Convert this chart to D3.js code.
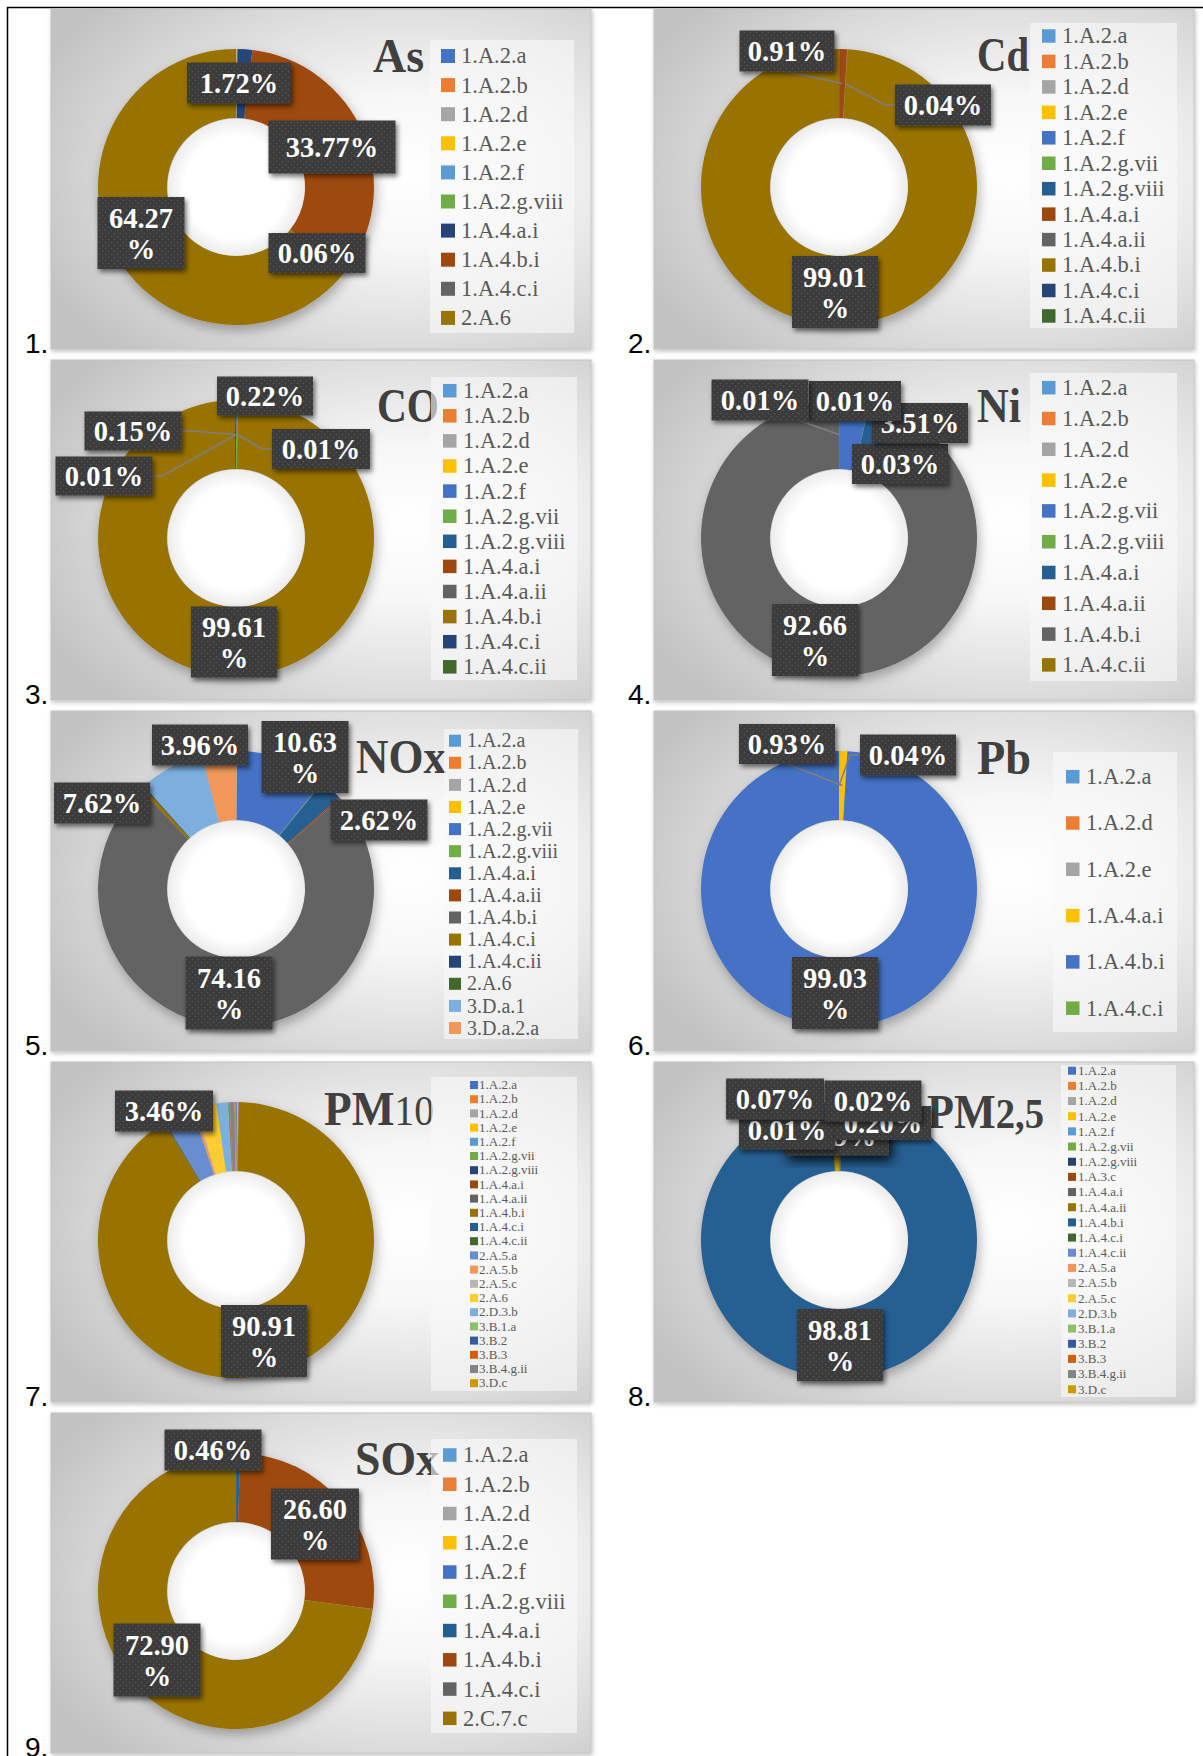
<!DOCTYPE html>
<html lang="en">
<head>
<meta charset="UTF-8" />
<title>Emission shares by source category</title>
<script src="https://d3js.org/d3.v7.min.js"></script>
<style>
  body { margin: 0; background: #fff; }
  text { font-family: 'Liberation Serif', 'Times New Roman', serif; }
  .num { font-family: 'Liberation Sans', Arial, sans-serif; font-size: 28px; fill: #000; }
  .title { font-weight: bold; fill: #404040; }
  .leg text { fill: #595959; }
  .lbl text { fill: #fff; font-weight: bold; font-size: 28.5px; text-anchor: middle; }
</style>
</head>
<body>
<svg id="fig" width="1203" height="1756"></svg>
<script>
// Office colour orders used by the two groups of charts
const paletteA = ["#4472C4","#ED7D31","#A5A5A5","#FFC000","#5B9BD5","#70AD47","#264478","#9E480E","#636363","#997300","#255E91","#43682B","#698ED0","#F1975A","#B7B7B7","#FFCD33","#7CAFDD","#8CC168","#335AA1","#D26012","#848484","#CC9A00"];
const paletteB = ["#5B9BD5","#ED7D31","#A5A5A5","#FFC000","#4472C4","#70AD47","#255E91","#9E480E","#636363","#997300","#264478","#43682B","#7CAFDD","#F1975A"];

// ---- data (shares in %) ----
const asCats = ["1.A.2.a","1.A.2.b","1.A.2.d","1.A.2.e","1.A.2.f","1.A.2.g.viii","1.A.4.a.i","1.A.4.b.i","1.A.4.c.i","2.A.6"];
const asVals = [0.03,0.02,0.05,0.03,0.03,0.02,1.72,33.77,0.06,64.27];
const asLabelled = ["1.A.4.a.i","1.A.4.b.i","1.A.4.c.i","2.A.6"];

const cdCats = ["1.A.2.a","1.A.2.b","1.A.2.d","1.A.2.e","1.A.2.f","1.A.2.g.vii","1.A.2.g.viii","1.A.4.a.i","1.A.4.a.ii","1.A.4.b.i","1.A.4.c.i","1.A.4.c.ii"];
const cdVals = [0.01,0,0.01,0,0.01,0,0,0.91,0.04,99.01,0.01,0];
const cdLabelled = ["1.A.4.a.i","1.A.4.a.ii","1.A.4.b.i"];

const coCats = ["1.A.2.a","1.A.2.b","1.A.2.d","1.A.2.e","1.A.2.f","1.A.2.g.vii","1.A.2.g.viii","1.A.4.a.i","1.A.4.a.ii","1.A.4.b.i","1.A.4.c.i","1.A.4.c.ii"];
const coVals = [0,0,0,0,0,0.22,0,0.01,0,99.61,0.15,0.01];
const coLabelled = ["1.A.2.g.vii","1.A.4.c.i","1.A.4.a.i","1.A.4.c.ii","1.A.4.b.i"];

const niCats = ["1.A.2.a","1.A.2.b","1.A.2.d","1.A.2.e","1.A.2.g.vii","1.A.2.g.viii","1.A.4.a.i","1.A.4.a.ii","1.A.4.b.i","1.A.4.c.ii"];
const niVals = [0.01,0,0.01,0,3.51,0.03,3.78,0,92.66,0];
const niLabelled = ["1.A.2.g.viii","1.A.2.g.vii","1.A.2.d","1.A.2.a","1.A.4.b.i"];

const noxCats = ["1.A.2.a","1.A.2.b","1.A.2.d","1.A.2.e","1.A.2.g.vii","1.A.2.g.viii","1.A.4.a.i","1.A.4.a.ii","1.A.4.b.i","1.A.4.c.i","1.A.4.c.ii","2.A.6","3.D.a.1","3.D.a.2.a"];
const noxVals = [0.05,0.02,0.05,0.03,10.63,0.08,2.62,0.18,74.16,0.45,0.10,0.05,7.62,3.96];
const noxLabelled = ["3.D.a.2.a","1.A.2.g.vii","3.D.a.1","1.A.4.a.i","1.A.4.b.i"];

const pbCats = ["1.A.2.a","1.A.2.d","1.A.2.e","1.A.4.a.i","1.A.4.b.i","1.A.4.c.i"];
const pbVals = [0,0,0.04,0.93,99.03,0];
const pbLabelled = ["1.A.4.a.i","1.A.2.e","1.A.4.b.i"];

const pm10Cats = ["1.A.2.a","1.A.2.b","1.A.2.d","1.A.2.e","1.A.2.f","1.A.2.g.vii","1.A.2.g.viii","1.A.4.a.i","1.A.4.a.ii","1.A.4.b.i","1.A.4.c.i","1.A.4.c.ii","2.A.5.a","2.A.5.b","2.A.5.c","2.A.6","2.D.3.b","3.B.1.a","3.B.2","3.B.3","3.B.4.g.ii","3.D.c"];
const pm10Vals = [0.10,0.05,0.05,0.05,0.02,0.02,0.01,0.02,0.03,90.91,0.10,0.05,3.46,0.35,0.10,2.40,1.33,0.05,0.05,0.10,0.60,0.15];
const pm10Labelled = ["2.A.5.a","1.A.4.b.i"];

const pm25Cats = ["1.A.2.a","1.A.2.b","1.A.2.d","1.A.2.e","1.A.2.f","1.A.2.g.vii","1.A.2.g.viii","1.A.3.c","1.A.4.a.i","1.A.4.a.ii","1.A.4.b.i","1.A.4.c.i","1.A.4.c.ii","2.A.5.a","2.A.5.b","2.A.5.c","2.D.3.b","3.B.1.a","3.B.2","3.B.3","3.B.4.g.ii","3.D.c"];
const pm25Vals = [0.01,0,0,0.02,0,0,0,0.07,0,0.20,98.81,0,0,0,0,0,0,0,0,0,0,0.89];
const pm25Labelled = ["3.D.c","1.A.2.a","1.A.4.a.ii","1.A.3.c","1.A.2.e","1.A.4.b.i"];

const soxCats = ["1.A.2.a","1.A.2.b","1.A.2.d","1.A.2.e","1.A.2.f","1.A.2.g.viii","1.A.4.a.i","1.A.4.b.i","1.A.4.c.i","2.C.7.c"];
const soxVals = [0.01,0,0.01,0,0,0,0.46,26.60,0.02,72.90];
const soxLabelled = ["1.A.4.a.i","1.A.4.b.i","2.C.7.c"];

// ---- layout ----
const colX = [51, 654], rowY = [9, 360, 711, 1062, 1413];
const boxW = 540, boxH = 340;
const cx0 = 185, cy0 = 178, rOut = 138, rIn = 69;

const charts = [
  { n: 1, row: 0, col: 0, title: ["As"], tx: 322, ty: 63, tw: 51, pal: paletteA, cats: asCats, vals: asVals, lab: asLabelled,
    leg: { x: 379, y: 31, w: 144, h: 293, first: 47, step: 29.1, sx: 390, ss: 14, txt: 410, fs: 22.5 },
    pos: { "1.A.4.a.i": [3, -104, 104, 41], "1.A.4.b.i": [96, -40, 127, 53], "1.A.4.c.i": [81, 66, 97, 40], "2.A.6": [-95, 46, 87, 72, 2] } },
  { n: 2, row: 0, col: 1, title: ["Cd"], tx: 323, ty: 62, tw: 52, pal: paletteB, cats: cdCats, vals: cdVals, lab: cdLabelled,
    leg: { x: 376, y: 14, w: 147, h: 305, first: 27, step: 25.45, sx: 388, ss: 13.5, txt: 408, fs: 22.5 },
    pos: { "1.A.4.a.i": [-52, -136, 95, 41, 1, "bottom", 0.5], "1.A.4.a.ii": [104, -82, 96, 41, 1, "left"], "1.A.4.b.i": [-4, 105, 86, 72, 2] } },
  { n: 3, row: 1, col: 0, title: ["CO"], tx: 326, ty: 62, tw: 62, pal: paletteB, cats: coCats, vals: coVals, lab: coLabelled,
    leg: { x: 380, y: 17, w: 146, h: 303, first: 30.7, step: 25.1, sx: 392, ss: 13.5, txt: 412, fs: 22.5 },
    pos: { "1.A.2.g.vii": [29, -142, 96, 39, 1, "bottom", 0.2], "1.A.4.c.i": [-103, -107, 97, 39, 1, "right"],
           "1.A.4.a.i": [85, -89, 98, 40, 1, "left"], "1.A.4.c.ii": [-132, -62, 97, 39, 1, "right"], "1.A.4.b.i": [-2, 104, 86, 71, 2] } },
  { n: 4, row: 1, col: 1, title: ["Ni"], tx: 323, ty: 62, tw: 44, pal: paletteB, cats: niCats, vals: niVals, lab: niLabelled,
    leg: { x: 376, y: 13, w: 147, h: 308, first: 27.7, step: 30.8, sx: 388, ss: 13.5, txt: 408, fs: 22.5 },
    pos: { "1.A.2.g.viii": [61, -74, 96, 40], "1.A.2.g.vii": [81, -115, 96, 40], "1.A.2.d": [16, -137, 92, 40],
           "1.A.2.a": [-79, -138, 97, 41, 1, "bottom", 0.9], "1.A.4.b.i": [-24, 102, 86, 72, 2] } },
  { n: 5, row: 2, col: 0, title: ["NOx"], tx: 305, ty: 62, tw: 90, pal: paletteB, cats: noxCats, vals: noxVals, lab: noxLabelled,
    leg: { x: 393, y: 18, w: 134, h: 310, first: 29.7, step: 22.1, sx: 398, ss: 12, txt: 416, fs: 20 },
    pos: { "3.D.a.2.a": [-36, -144, 96, 41], "1.A.2.g.vii": [69, -132, 87, 72, 2], "3.D.a.1": [-134, -86, 96, 41],
           "1.A.4.a.i": [143, -69, 97, 41], "1.A.4.b.i": [-7, 104, 87, 73, 2] } },
  { n: 6, row: 2, col: 1, title: ["Pb"], tx: 323, ty: 63, tw: 54, pal: paletteB, cats: pbCats, vals: pbVals, lab: pbLabelled,
    leg: { x: 399, y: 41, w: 124, h: 280, first: 65.7, step: 46.3, sx: 412, ss: 13.5, txt: 432, fs: 22.5 },
    pos: { "1.A.4.a.i": [-52, -145, 96, 40, 1, "bottom", 0.5], "1.A.2.e": [69, -134, 96, 41, 1, "left"], "1.A.4.b.i": [-4, 104, 86, 72, 2] } },
  { n: 7, row: 3, col: 0, title: ["PM", "10"], tx: 273, ty: 63, tw: 110, pal: paletteA, cats: pm10Cats, vals: pm10Vals, lab: pm10Labelled,
    leg: { x: 380, y: 15, w: 146, h: 314, first: 23, step: 14.2, sx: 419, ss: 8, txt: 428, fs: 13 },
    pos: { "2.A.5.a": [-72, -129, 98, 41], "1.A.4.b.i": [28, 101, 86, 72, 2] } },
  { n: 8, row: 3, col: 1, title: ["PM", "2,5"], tx: 273, ty: 66, tw: 117, pal: paletteA, cats: pm25Cats, vals: pm25Vals, lab: pm25Labelled,
    leg: { x: 407, y: 3, w: 115, h: 332, first: 8.7, step: 15.17, sx: 414, ss: 8, txt: 424, fs: 13 },
    pos: { "3.D.c": [-2, -104, 104, 39, 1, null, 0, true], "1.A.2.a": [-52, -110, 96, 39], "1.A.4.a.ii": [44, -117, 96, 34],
           "1.A.3.c": [-64, -141, 98, 41], "1.A.2.e": [34, -139, 97, 41], "1.A.4.b.i": [1, 105, 86, 72, 2] } },
  { n: 9, row: 4, col: 0, title: ["SOx"], tx: 304, ty: 62, tw: 84, pal: paletteB, cats: soxCats, vals: soxVals, lab: soxLabelled,
    leg: { x: 380, y: 26, w: 146, h: 294, first: 42, step: 29.26, sx: 392, ss: 13.5, txt: 412, fs: 22.5 },
    pos: { "1.A.4.a.i": [-23, -141, 97, 41], "1.A.4.b.i": [79, -67, 88, 71, 2], "2.C.7.c": [-79, 69, 87, 73, 2] } }
];

const svg = d3.select("#fig");
const defs = svg.append("defs");

const bg = defs.append("radialGradient").attr("id", "bgGrad")
  .attr("cx", 0.66).attr("cy", 0.48).attr("r", 0.75);
[[0, "#ffffff"], [0.3, "#f7f7f7"], [0.7, "#dadada"], [1, "#c2c2c2"]].forEach(s =>
  bg.append("stop").attr("offset", s[0]).attr("stop-color", s[1]));

const hole = defs.append("radialGradient").attr("id", "holeGrad");
[[0, "#ffffff"], [0.75, "#ffffff"], [1, "#ececec"]].forEach(s =>
  hole.append("stop").attr("offset", s[0]).attr("stop-color", s[1]));

const pat = defs.append("pattern").attr("id", "dots")
  .attr("width", 6).attr("height", 6).attr("patternUnits", "userSpaceOnUse");
pat.append("rect").attr("width", 6).attr("height", 6).attr("fill", "#3b3b3b");
pat.append("circle").attr("cx", 1.5).attr("cy", 1.5).attr("r", 0.8).attr("fill", "#565656");
pat.append("circle").attr("cx", 4.5).attr("cy", 4.5).attr("r", 0.8).attr("fill", "#565656");

function shadow(id, dx, dy, sd, op) {
  defs.append("filter").attr("id", id).attr("x", "-30%").attr("y", "-30%").attr("width", "160%").attr("height", "160%")
    .append("feDropShadow").attr("dx", dx).attr("dy", dy).attr("stdDeviation", sd)
    .attr("flood-color", "#000").attr("flood-opacity", op);
}
shadow("lblShadow", 2, 3, 2.5, 0.55);
shadow("bigShadow", 3, 5, 6, 0.9);
shadow("ringShadow", 2, 5, 6, 0.3);
shadow("boxShadow", 1, 2, 2, 0.25);

// table lines
svg.append("line").attr("x1", 7).attr("x2", 1203).attr("y1", 7.5).attr("y2", 7.5).attr("stroke", "#000").attr("stroke-width", 1.5);
svg.append("line").attr("x1", 7.5).attr("x2", 7.5).attr("y1", 7).attr("y2", 1756).attr("stroke", "#000").attr("stroke-width", 1.5);

const pie = d3.pie().sort(null).value(d => d.v);
const arc = d3.arc().innerRadius(rIn).outerRadius(rOut);

charts.forEach(c => {
  const bx = colX[c.col], by = rowY[c.row];
  const g = svg.append("g").attr("transform", `translate(${bx},${by})`);

  g.append("rect").attr("width", boxW).attr("height", boxH)
    .attr("fill", "url(#bgGrad)").attr("stroke", "#c4c4c4").attr("filter", "url(#boxShadow)");

  // donut
  const data = c.cats.map((k, i) => ({ k, v: c.vals[i], col: c.pal[i] }));
  const arcs = pie(data);
  const ring = g.append("g").attr("transform", `translate(${cx0},${cy0})`);
  ring.append("g").attr("filter", "url(#ringShadow)")
    .selectAll("path").data(arcs).join("path")
    .attr("d", arc).attr("fill", d => d.data.col);
  ring.append("circle").attr("r", rIn - 0.5).attr("fill", "url(#holeGrad)");

  // title (drawn under the legend, as in the source)
  const t = g.append("text").attr("class", "title").attr("x", c.tx).attr("y", c.ty).attr("font-size", 48)
    .attr("textLength", c.tw).attr("lengthAdjust", "spacingAndGlyphs");
  t.append("tspan").text(c.title[0]);
  if (c.title[1]) {
    t.append("tspan").text(c.title[1]).attr("font-size", 42)
      .attr("font-weight", c.title[1] === "10" ? "normal" : "bold");
  }

  // legend
  const L = c.leg;
  const lg = g.append("g").attr("class", "leg");
  lg.append("rect").attr("x", L.x).attr("y", L.y).attr("width", L.w).attr("height", L.h)
    .attr("fill", "#f8f8f8").attr("opacity", 0.62);
  c.cats.forEach((k, i) => {
    const yc = L.first + i * L.step;
    lg.append("rect").attr("x", L.sx).attr("y", yc - L.ss / 2).attr("width", L.ss).attr("height", L.ss).attr("fill", c.pal[i]);
    lg.append("text").attr("x", L.txt).attr("y", yc + L.fs * 0.33).attr("font-size", L.fs).text(k);
  });

  // data labels
  const lab = g.append("g").attr("class", "lbl").attr("transform", `translate(${cx0},${cy0})`);
  c.lab.forEach(k => {
    const a = arcs.find(d => d.data.k === k);
    const p = c.pos[k];
    const [dx, dy, w, h] = p;
    const lines = p[4] === 2 ? [a.data.v.toFixed(2), "%"] : [a.data.v.toFixed(2) + "%"];
    const x0 = dx - w / 2, y0 = dy - h / 2;
    if (p[5]) {
      const [ccx, ccy] = arc.centroid(a);
      let pts;
      if (p[5] === "bottom") pts = [[x0 + p[6] * w, y0 + h], [ccx, ccy]];
      else if (p[5] === "left") pts = [[x0, dy], [x0 - 10, dy], [ccx, ccy]];
      else pts = [[x0 + w, dy], [x0 + w + 10, dy], [ccx, ccy]];
      lab.append("path").attr("d", d3.line()(pts)).attr("fill", "none")
        .attr("stroke", "#7f7f7f").attr("stroke-width", 1.5);
    }
    const bgrp = lab.append("g");
    bgrp.append("rect").attr("x", x0).attr("y", y0).attr("width", w).attr("height", h)
      .attr("fill", "url(#dots)").attr("filter", p[7] ? "url(#bigShadow)" : "url(#lblShadow)");
    lines.forEach((s, i) => {
      bgrp.append("text").attr("x", dx)
        .attr("y", dy + 10 - (lines.length - 1) * 15.5 + i * 31).text(s);
    });
  });

  // cell number
  svg.append("text").attr("class", "num").attr("x", bx - 26).attr("y", by + 344).text(c.n + ".");
});
</script>
</body>
</html>
